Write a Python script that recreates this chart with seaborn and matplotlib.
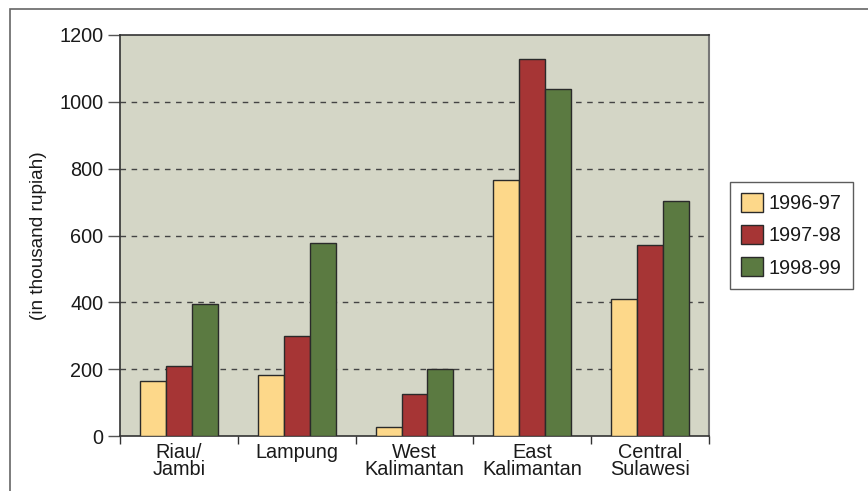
import matplotlib
matplotlib.use('Agg')
import matplotlib.pyplot as plt
import seaborn as sns
import pandas as pd
from matplotlib.patches import Rectangle
from matplotlib.ticker import FixedLocator

# data
regions = ['Riau/\nJambi', 'Lampung', 'West\nKalimantan', 'East\nKalimantan', 'Central\nSulawesi']
years = ['1996-97', '1997-98', '1998-99']
v_1996 = [165, 183, 27, 766, 409]
v_1997 = [208, 299, 126, 1128, 573]
v_1998 = [394, 578, 200, 1038, 703]
colors = ['#FDD88A', '#A63535', '#5B7A41']

rows = []
for yr, vals in zip(years, [v_1996, v_1997, v_1998]):
    for reg, v in zip(regions, vals):
        rows.append({'region': reg, 'year': yr, 'value': v})
df = pd.DataFrame(rows)

sns.set_style('white')
plt.rcParams['font.family'] = ['Liberation Sans', 'DejaVu Sans']

fig = plt.figure(figsize=(8.68, 4.91), dpi=100)
ax = fig.add_axes([120 / 868, 1 - 436 / 491, 589 / 868, 401 / 491])
ax.set_facecolor('#D4D6C6')

sns.barplot(data=df, x='region', y='value', hue='year', order=regions,
            hue_order=years, palette=colors, width=0.66, saturation=1,
            edgecolor='#2a2a2a', linewidth=1.0, ax=ax, zorder=3)

ax.set_ylim(0, 1200)
ax.set_xlim(-0.5, 4.5)
ax.set_yticks([0, 200, 400, 600, 800, 1000, 1200])
for y in [200, 400, 600, 800, 1000]:
    ax.axhline(y, color='#444444', linestyle=(0, (4, 4)), linewidth=1.0, zorder=1)

ax.tick_params(axis='y', direction='out', length=9, width=1, color='#555555',
               labelsize=14.3, labelcolor='#1a1a1a', pad=3, left=True)
ax.tick_params(axis='x', which='major', length=0, labelsize=14.3,
               labelcolor='#1a1a1a', pad=5)
ax.xaxis.set_minor_locator(FixedLocator([-0.5, 0.5, 1.5, 2.5, 3.5, 4.5]))
ax.tick_params(axis='x', which='minor', direction='out', length=6, width=1,
               color='#333333', bottom=True)
for lab in ax.get_xticklabels():
    lab.set_linespacing(0.9)

ax.set_xlabel('')
ax.set_ylabel('(in thousand rupiah)', fontsize=13.7, color='#1a1a1a', labelpad=9)

for side in ['left', 'top', 'bottom']:
    ax.spines[side].set_color('#333333')
    ax.spines[side].set_linewidth(1.2)
ax.spines['right'].set_color('#777777')
ax.spines['right'].set_linewidth(1.5)

leg = ax.legend(loc='upper left', bbox_to_anchor=(730 / 868, 1 - 182 / 491),
                bbox_transform=fig.transFigure, fontsize=14.3, frameon=True,
                fancybox=False, edgecolor='#333333', handlelength=1.1,
                handleheight=1.1, handletextpad=0.3, labelspacing=0.6,
                borderpad=0.55, borderaxespad=0)
leg.get_frame().set_linewidth(1.0)
for t in leg.get_texts():
    t.set_color('#1a1a1a')

fig.add_artist(Rectangle((10 / 868, -0.2), 1.2, 1.2 - 9 / 491,
                         transform=fig.transFigure, fill=False,
                         edgecolor='#666666', linewidth=1.2))

fig.savefig('out.png', dpi=100)
